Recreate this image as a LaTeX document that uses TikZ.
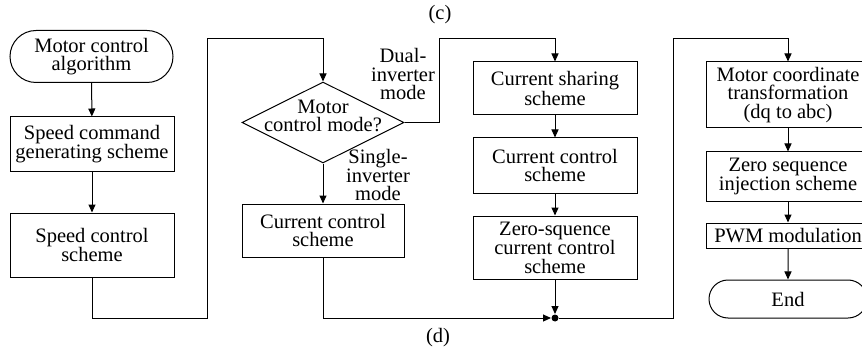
\documentclass[tikz,border=0pt]{standalone}
\usepackage{fontspec}
\setmainfont{Liberation Serif}
\usetikzlibrary{shapes.misc,shapes.geometric,arrows.meta}
\newcommand\figfont{\fontsize{20.5}{18.5}\selectfont}
\begin{document}
\begin{tikzpicture}[x=1pt,y=-1pt,line width=1pt,
  box/.style={draw,rectangle,minimum width=164pt,inner sep=0pt,align=center,font=\figfont},
  term/.style={draw,rounded rectangle,inner sep=0pt,align=center,font=\figfont},
  dia/.style={draw,diamond,minimum width=162pt,minimum height=81pt,inner sep=0pt},
  lbl/.style={align=center,inner sep=0pt,font=\figfont},
  arr/.style={-{Triangle[length=8pt,width=7pt]}}]
\useasboundingbox (0,0) rectangle (862,350);
% left column
\node[term,minimum width=163pt,minimum height=52pt] (s) at (91.5,56.5) {Motor control\\algorithm};
\node[box,minimum height=54pt] (b1) at (92,144) {Speed command\\generating scheme};
\node[box,minimum height=64pt] (b2) at (92,245) {Speed control\\scheme};
% decision
\node[dia] (d) at (323,122.5) {};
\node[lbl] (dt) at (323,116) {Motor\\control mode?};
\node[box,minimum width=162pt,minimum height=53pt] (c1) at (323,230.5) {Current control\\scheme};
% middle column
\node[box,minimum height=53pt] (m1) at (555,88.5) {Current sharing\\scheme};
\node[box,minimum height=55pt] (m2) at (555,165.5) {Current control\\scheme};
\node[box,minimum height=63pt] (m3) at (555,247.5) {Zero-squence\\current control\\scheme};
\node[circle,fill,inner sep=0pt,minimum size=7pt] (j) at (555,318) {};
% right column
\node[box,minimum height=66pt] (r1) at (788,95) {Motor coordinate\\transformation\\(dq to abc)};
\node[box,minimum height=49pt] (r2) at (788,176.5) {Zero sequence\\injection scheme};
\node[box,minimum height=25pt] (r3) at (788,235.5) {PWM modulation};
\node[term,minimum width=158pt,minimum height=38pt] (e) at (788,299) {End};
% labels
\node[lbl] (dual) at (403,74) {Dual-\\inverter\\mode};
\node[lbl] (single) at (378,175) {Single-\\inverter\\mode};
\node[lbl] (lc) at (440,15) {(c)};
\node[lbl] (ld) at (438,338) {(d)};
% connectors
\draw[arr] (s) -- (b1);
\draw[arr] (b1) -- (b2);
\draw[arr] (b2.south) -- (92,318) -| (207,39) -| (d.north);
\draw[arr] (d.east) -| (439,39) -| (m1.north);
\draw[arr] (d) -- (c1);
\draw[arr] (c1.south) |- (j);
\draw[arr] (m1) -- (m2);
\draw[arr] (m2) -- (m3);
\draw[arr] (m3) -- (j);
\draw[arr] (j) -| (673,39) -| (r1.north);
\draw[arr] (r1) -- (r2);
\draw[arr] (r2) -- (r3);
\draw[arr] (r3) -- (e);
\end{tikzpicture}
\end{document}
